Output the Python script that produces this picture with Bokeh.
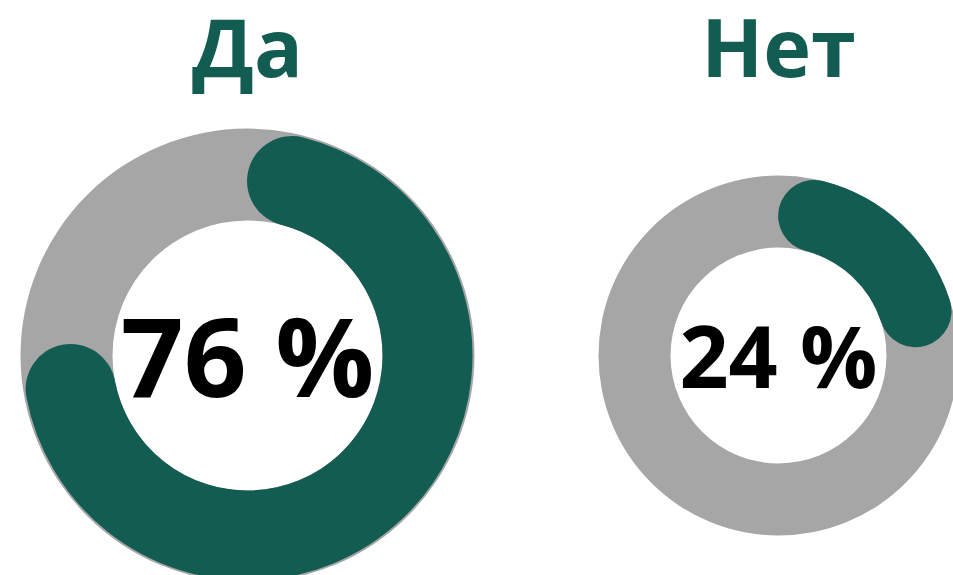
import math
from bokeh.plotting import figure
from bokeh.core.properties import value
from bokeh.embed import file_html
from bokeh.resources import INLINE

# data
categories = ["Да", "Нет"]
percents = [76, 24]

# style / layout
W, H = 953, 575
centers_x = [247, 778]
center_y = 355            # pixel row of the ring centres
outer_r = [227, 180]
inner_r = [135, 108]
band_r = [180, 144]       # centreline radius of green arc
band_w = [90, 72]         # green band thickness (px)
title_size = [81, 81]
pct_size = [110, 86]
pct_y = [353, 354]        # pixel row of text middle
title_y = 45
GREEN = "#135c51"
GRAY = "#a6a6a6"

p = figure(width=W, height=H, x_range=(0, W), y_range=(0, H),
           output_backend="svg", toolbar_location=None,
           min_border=0, outline_line_color=None)
p.axis.visible = False
p.grid.visible = False
p.background_fill_color = "white"
p.border_fill_color = "white"

cy = H - center_y

# grey rings
p.annular_wedge(x=centers_x, y=[cy] * 2, inner_radius=inner_r, outer_radius=outer_r,
                start_angle=0, end_angle=2 * math.pi, fill_color=GRAY, line_color=None)

# green arcs with round caps; total length (caps included) = percent of circle
for i, pct in enumerate(percents):
    total = 2 * math.pi * pct / 100.0
    cap = (band_w[i] / 2) / band_r[i]
    start = math.pi / 2 - cap
    end = math.pi / 2 - total + cap
    p.arc(x=[centers_x[i]], y=[cy], radius=band_r[i], start_angle=start, end_angle=end,
          direction="clock", line_color=GREEN, line_width=band_w[i], line_cap="round")

# titles
p.text(x=centers_x, y=[H - title_y] * 2, text=categories,
       text_font=value("Open Sans"), text_font_style="bold",
       text_font_size=[f"{s}px" for s in title_size], text_color=GREEN,
       text_align="center", text_baseline="middle")

# percentages
p.text(x=centers_x, y=[H - b for b in pct_y], text=[f"{v} %" for v in percents],
       text_font=value("Open Sans"), text_font_style="bold",
       text_font_size=[f"{s}px" for s in pct_size], text_color="black",
       text_align="center", text_baseline="middle")

open("out.html", "w").write(file_html(p, INLINE))
